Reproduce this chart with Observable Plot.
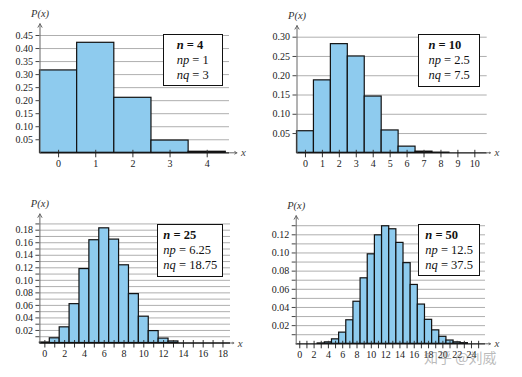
<!DOCTYPE html>
<html><head><meta charset="utf-8">
<script src="https://cdn.jsdelivr.net/npm/d3@7"></script>
<script src="https://cdn.jsdelivr.net/npm/@observablehq/plot@0.6"></script>
<style>
html,body{margin:0;padding:0;background:#fff;}
body{width:522px;height:377px;position:relative;overflow:hidden;font-family:"Liberation Serif","Times New Roman",Times,"DejaVu Serif",serif;}
.panel{position:absolute;}
.panel svg{overflow:visible;}
.box{position:absolute;border:1.3px solid #111;background:#fff;box-sizing:border-box;font-size:12.5px;line-height:15px;color:#111;display:flex;justify-content:center;align-items:center;}
.box .inner{text-align:left;white-space:nowrap;}
.wm{position:absolute;font-family:"Noto Sans CJK SC",sans-serif;font-size:14px;color:rgba(120,120,120,0.5);white-space:nowrap;}
</style></head><body>
<script>
// ---- data ----
const k4 = [0, 1, 2, 3, 4];
const p4 = [0.316, 0.422, 0.211, 0.047, 0.004];

const k10 = [0, 1, 2, 3, 4, 5, 6, 7, 8];
const p10 = [0.056, 0.188, 0.282, 0.250, 0.146, 0.058, 0.016, 0.003, 0.0004];

const k25 = [0, 1, 2, 3, 4, 5, 6, 7, 8, 9, 10, 11, 12, 13];
const p25 = [0.0008, 0.0075, 0.025, 0.062, 0.118, 0.164, 0.183, 0.165, 0.124, 0.078, 0.042, 0.019, 0.007, 0.0025];

const k50 = [3, 4, 5, 6, 7, 8, 9, 10, 11, 12, 13, 14, 15, 16, 17, 18, 19, 20, 21, 22, 23];
const p50 = [0.0004, 0.0016, 0.0049, 0.0123, 0.0259, 0.0463, 0.0721, 0.0985, 0.1194, 0.1294, 0.1261,
             0.1111, 0.0888, 0.0648, 0.0432, 0.0264, 0.0148, 0.0077, 0.0036, 0.0016, 0.0007];

// legend values
const nVals = ["4", "10", "25", "50"];
const npVals = ["1", "2.5", "6.25", "12.5"];
const nqVals = ["3", "7.5", "18.75", "37.5"];

// tick values
const yGrid1 = [0.05, 0.10, 0.15, 0.20, 0.25, 0.30, 0.35, 0.40, 0.45];
const yLab1 = yGrid1;
const xTicks1 = [0, 1, 2, 3, 4];
const xLab1 = xTicks1;

const yGrid2 = [0.05, 0.10, 0.15, 0.20, 0.25, 0.30];
const yLab2 = yGrid2;
const xTicks2 = [0, 1, 2, 3, 4, 5, 6, 7, 8, 9, 10];
const xLab2 = xTicks2;

const yGrid3 = [0.01,0.02,0.03,0.04,0.05,0.06,0.07,0.08,0.09,0.10,0.11,0.12,0.13,0.14,0.15,0.16,0.17,0.18,0.19];
const yLab3 = [0.02, 0.04, 0.06, 0.08, 0.10, 0.12, 0.14, 0.16, 0.18];
const xTicks3 = [0,1,2,3,4,5,6,7,8,9,10,11,12,13,14,15,16,17,18];
const xLab3 = [0, 2, 4, 6, 8, 10, 12, 14, 16, 18];

const yGrid4 = [0.01,0.02,0.03,0.04,0.05,0.06,0.07,0.08,0.09,0.10,0.11,0.12,0.13];
const yLab4 = [0.02, 0.04, 0.06, 0.08, 0.10, 0.12];
const xTicks4 = [0,1,2,3,4,5,6,7,8,9,10,11,12,13,14,15,16,17,18,19,20,21,22,23,24,25];
const xLab4 = [0, 2, 4, 6, 8, 10, 12, 14, 16, 18, 20, 22, 24];

// ---- layout ----
const panels = [
  {k: k4, p: p4, yGrid: yGrid1, yLab: yLab1, xTicks: xTicks1, xLab: xLab1,
   left: 0, top: 0, width: 261, height: 188, mL: 39.5, mR: 32, mT: 35, mB: 35.7,
   xDomain: [-0.5, 4.6], yDomain: [0, 0.45], yTop: 0.495, xEnd: 4.8,
   box: [162.7, 34.3, 60, 52]},
  {k: k10, p: p10, yGrid: yGrid2, yLab: yLab2, xTicks: xTicks2, xLab: xLab2,
   left: 260, top: 0, width: 262, height: 188, mL: 36.5, mR: 35.3, mT: 36.7, mB: 35.7,
   xDomain: [-0.5, 10.73], yDomain: [0, 0.30], yTop: 0.330, xEnd: 10.92,
   box: [418.3, 34.3, 61.7, 52.4]},
  {k: k25, p: p25, yGrid: yGrid3, yLab: yLab3, xTicks: xTicks3, xLab: xLab3,
   left: 0, top: 190, width: 261, height: 187, mL: 39.4, mR: 31, mT: 39.7, mB: 34.5,
   xDomain: [-0.5, 18.76], yDomain: [0, 0.18], yTop: 0.206, xEnd: 19.09,
   box: [157.3, 224.3, 66, 52.4]},
  {k: k50, p: p50, yGrid: yGrid4, yLab: yLab4, xTicks: xTicks4, xLab: xLab4,
   left: 260, top: 190, width: 262, height: 187, mL: 35.7, mR: 37, mT: 44.3, mB: 33.7,
   xDomain: [-0.5, 25.96], yDomain: [0, 0.12], yTop: 0.141, xEnd: 26.65,
   box: [418.3, 224.3, 61.7, 51.7]}
];

const fmt = d3.format(".2f");
const barFill = "#8ecbee";
const serif = "'Liberation Serif', 'Times New Roman', Times, 'DejaVu Serif', serif";

panels.forEach((c, i) => {
  const data = c.k.map((k, j) => ({k, p: c.p[j]}));
  const isLab = v => c.yLab.some(l => Math.abs(l - v) < 1e-9);
  const pxPerY = (c.height - c.mB - c.mT) / c.yDomain[1];
  const up = 2.5 / pxPerY;
  const x0 = c.xDomain[0], x1 = c.xDomain[1];
  const chart = Plot.plot({
    width: c.width, height: c.height,
    marginLeft: c.mL, marginRight: c.mR, marginTop: c.mT, marginBottom: c.mB,
    x: {domain: c.xDomain},
    y: {domain: c.yDomain},
    style: {fontFamily: serif, fontSize: "10px", color: "#222", background: "transparent"},
    marks: [
      Plot.gridY({ticks: c.yGrid, stroke: "#9a9a9a", strokeOpacity: 1, strokeWidth: 0.8}),
      Plot.rectY(data, {x1: d => d.k - 0.5, x2: d => d.k + 0.5, y: "p", fill: barFill, stroke: "#111", strokeWidth: 1.2}),
      Plot.axisY({ticks: c.yGrid, tickSize: 4, tickPadding: 3, tickFormat: d => isLab(d) ? fmt(d) : "", label: null, stroke: "#444", fontSize: 10, fontFamily: serif}),
      Plot.axisX({ticks: c.xTicks, tickSize: 5, tickPadding: 2, tickFormat: d => c.xLab.includes(d) ? String(d) : "", label: null, stroke: "#333", fontSize: 10, fontFamily: serif}),
      Plot.ruleX(c.xTicks, {x: d => d, y1: 0, y2: up, stroke: "#333"}),
      Plot.ruleY([0], {x1: x0, x2: x1, stroke: "#111", strokeWidth: 1.3}),
      Plot.arrow([0], {x1: x1, y1: 0, x2: c.xEnd, y2: 0, stroke: "#666", strokeWidth: 1, headLength: 6}),
      Plot.arrow([0], {x1: x0, y1: 0, x2: x0, y2: c.yTop, stroke: "#666", strokeWidth: 1, headLength: 6}),
      Plot.text(["P(x)"], {x: x0, y: c.yTop, dy: -10, text: d => d, fontStyle: "italic", fontSize: 10.5, fill: "#333", fontFamily: serif}),
      Plot.text(["x"], {x: c.xEnd, y: 0, dx: 4, text: d => d, textAnchor: "start", fontStyle: "italic", fontSize: 11, fill: "#444", fontFamily: serif})
    ]
  });
  const wrap = document.createElement("div");
  wrap.className = "panel";
  wrap.style.left = c.left + "px";
  wrap.style.top = c.top + "px";
  wrap.appendChild(chart);
  document.body.appendChild(wrap);

  const box = document.createElement("div");
  box.className = "box";
  box.style.left = c.box[0] + "px";
  box.style.top = c.box[1] + "px";
  box.style.width = c.box[2] + "px";
  box.style.height = c.box[3] + "px";
  box.innerHTML = `<div class="inner"><b><i>n</i> = ${nVals[i]}</b><br><i>np</i> = ${npVals[i]}<br><i>nq</i> = ${nqVals[i]}</div>`;
  document.body.appendChild(box);
});

const wm = document.createElement("div");
wm.className = "wm";
wm.style.left = "424px";
wm.style.top = "347px";
wm.textContent = "知乎 @刘威";
document.body.appendChild(wm);
</script>
</body></html>
